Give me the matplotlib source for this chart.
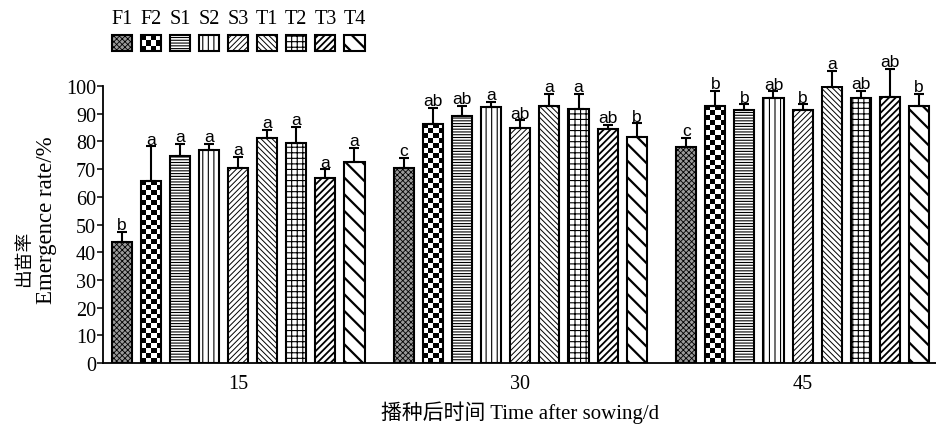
"""
Emergence rate of the nine treatments at 15, 30 and 45 days after sowing.
"""

import matplotlib

matplotlib.use("Agg")
import matplotlib.pyplot as plt
import numpy as np
from matplotlib.patches import Rectangle
from matplotlib.transforms import blended_transform_factory

treatments = ["F1", "F2", "S1", "S2", "S3", "T1", "T2", "T3", "T4"]
days = ["15", "30", "45"]

rate_15 = [43.6, 65.8, 74.8, 77.0, 70.4, 81.3, 79.4, 66.9, 72.6]
err_15 = [3.7, 12.4, 4.2, 2.0, 4.0, 2.8, 5.8, 3.0, 5.1]
sig_15 = ["b", "a", "a", "a", "a", "a", "a", "a", "a"]

rate_30 = [70.3, 86.3, 89.3, 92.3, 84.7, 92.7, 91.8, 84.6, 81.6]
err_30 = [3.8, 5.9, 3.5, 1.9, 2.9, 4.4, 5.5, 1.3, 4.9]
sig_30 = ["c", "ab", "ab", "a", "ab", "a", "a", "ab", "b"]

rate_45 = [78.1, 92.8, 91.3, 95.8, 91.3, 99.6, 95.8, 96.2, 92.7]
err_45 = [3.2, 5.4, 2.1, 2.3, 2.1, 5.9, 2.4, 9.9, 4.5]
sig_45 = ["c", "b", "b", "ab", "b", "a", "ab", "ab", "b"]

rates = [rate_15, rate_30, rate_45]
errors = [err_15, err_30, err_45]
letters = [sig_15, sig_30, sig_45]

# fill style per treatment; None means checkerboard drawn separately
hatches = {
    "F1": ("xxxxxx", "#9a9a9a", 0.6),
    "F2": (None, "white", 1.0),
    "S1": ("------", "white", 0.8),
    "S2": ("|||", "white", 0.8),
    "S3": ("//////", "white", 0.7),
    "T1": ("\\\\\\\\\\\\", "white", 0.7),
    "T2": ("+++", "white", 0.8),
    "T3": ("/////", "white", 1.3),
    "T4": ("\\\\", "white", 1.6),
}

plt.rcParams["font.family"] = ["Liberation Serif", "Noto Sans CJK SC"]
plt.rcParams["font.size"] = 14.5

BAR_W = 0.69
GROUP_STEP = 9.7
CELL_Y = 1.8  # checker cell height in data units


def checker(ax, x0, w, h, zorder=1):
    nrow = max(1, int(round(h / CELL_Y)))
    board = np.add.outer(np.arange(nrow), np.arange(4)) % 2
    ax.imshow(board, cmap="gray", extent=(x0, x0 + w, 0, h), aspect="auto",
              interpolation="nearest", zorder=zorder)


fig = plt.figure(figsize=(9.37, 4.27), dpi=100)
ax = fig.add_axes([0.110, 0.1475, 0.890, 0.6487])

offsets = np.arange(len(treatments)) - (len(treatments) - 1) / 2
centers = np.arange(len(days)) * GROUP_STEP

for g, center in enumerate(centers):
    xs = center + offsets
    for i, name in enumerate(treatments):
        hatch, face, hlw = hatches[name]
        val = rates[g][i]
        err = errors[g][i]
        if hatch is None:
            checker(ax, xs[i] - BAR_W / 2, BAR_W, val)
        bars = ax.bar(xs[i], val, width=BAR_W, facecolor=face if hatch else "none",
                      edgecolor="black", linewidth=1.5, hatch=hatch, zorder=2)
        if hatch and hasattr(bars[0], "set_hatch_linewidth"):
            bars[0].set_hatch_linewidth(hlw)
        ax.errorbar(xs[i], val, yerr=[[0], [err]], fmt="none", ecolor="black",
                    elinewidth=1.5, capsize=3.6, capthick=1.5, zorder=3,
                    clip_on=False)
        ax.text(xs[i], val + err + 1.0, letters[g][i], ha="center", va="baseline",
                family="Liberation Sans", fontsize=12.5, clip_on=False)

ax.set_xlim(-4.64, centers[-1] + 4.62)
ax.set_ylim(0, 100)
ax.set_yticks(np.arange(0, 101, 10))
ax.set_xticks(centers)
ax.set_xticklabels(days)
ax.tick_params(axis="x", length=0, pad=8)
ax.tick_params(axis="y", direction="out", length=4, width=1.1, pad=1)
for side in ("top", "right"):
    ax.spines[side].set_visible(False)
for side in ("left", "bottom"):
    ax.spines[side].set_linewidth(1.3)

ax.set_xlabel("播种后时间 Time after sowing/d", fontsize=15, labelpad=5)

# two-line y label: Chinese on the outside, English next to the ticks
ylab = blended_transform_factory(fig.transFigure, ax.transAxes)
fig.text(0.026, 0.38, "出苗率", transform=ylab, rotation=90, ha="center",
         va="center", fontsize=13.5)
fig.text(0.050, 0.52, "Emergence rate/%", transform=ylab, rotation=90,
         ha="center", va="center", fontsize=16.5)

# legend: labels above swatches, aligned with the first group of bars
trans = blended_transform_factory(ax.transData, fig.transFigure)
sw_y, sw_h = 0.878, 0.0375
for i, name in enumerate(treatments):
    hatch, face, hlw = hatches[name]
    x = centers[0] + offsets[i]
    fig.text(x, 0.955, name, transform=trans, ha="center", va="center", fontsize=14.5)
    x0 = x - BAR_W / 2
    if hatch is None:
        cw = BAR_W / 4
        ch = sw_h / 3
        for r in range(3):
            for c in range(4):
                if (r + c) % 2 == 0:
                    fig.add_artist(Rectangle((x0 + c * cw, sw_y + r * ch), cw, ch,
                                             transform=trans, facecolor="black",
                                             edgecolor="none"))
    sw = Rectangle((x0, sw_y), BAR_W, sw_h, transform=trans,
                   facecolor=face if hatch else "none", edgecolor="black",
                   linewidth=1.5, hatch=hatch)
    if hatch and hasattr(sw, "set_hatch_linewidth"):
        sw.set_hatch_linewidth(hlw)
    fig.add_artist(sw)

fig.savefig("out.png", dpi=100)
